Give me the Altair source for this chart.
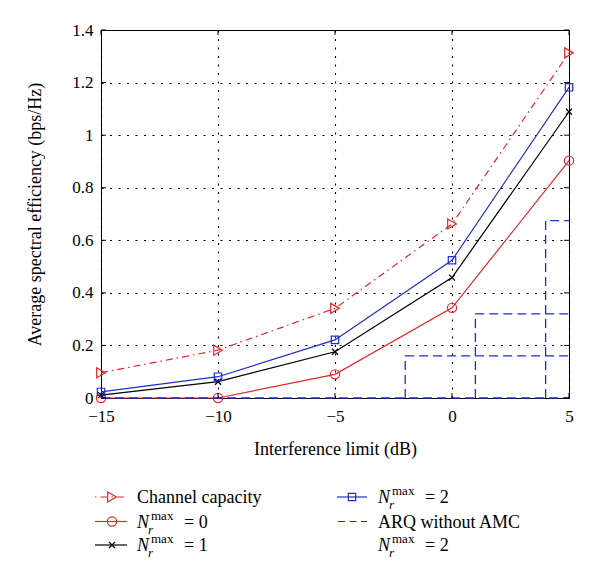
import altair as alt
import pandas as pd

# ---- values ----
x_vals = [-15, -10, -5, 0, 5]
capacity = [0.096, 0.182, 0.341, 0.662, 1.313]
nr0 = [0.0, 0.0, 0.090, 0.343, 0.903]
nr1 = [0.011, 0.062, 0.176, 0.458, 1.089]
nr2 = [0.023, 0.081, 0.221, 0.524, 1.182]
arq_thresholds = [-2, 1, 4]
arq_levels = [0.16, 0.32, 0.675]
x_ticks = [-15, -10, -5, 0, 5]
y_ticks = [0, 0.2, 0.4, 0.6, 0.8, 1.0, 1.2, 1.4]
x_domain = [-15, 5]
y_domain = [0, 1.4]

RED = "#e4262b"
BLUE = "#1f2ec8"
BLACK = "#000000"
FONT = "'Liberation Serif', 'Times New Roman', 'DejaVu Serif', serif"
W, H = 468, 368
CROSS = "M-1,-1L1,1M1,-1L-1,1"

xs = alt.Scale(domain=x_domain, nice=False, zero=False)
ys = alt.Scale(domain=y_domain, nice=False, zero=False)

AX = alt.Axis(
    values=x_ticks, format="~g", title="Interference limit (dB)",
    grid=True, gridDash=[2, 6.5], gridColor="#000", gridWidth=1.1,
    ticks=False, tickSize=0, domain=False, labelFlush=False,
    labelFont=FONT, labelFontSize=17, labelColor="black", labelPadding=10,
    titleFont=FONT, titleFontSize=18, titleFontWeight="normal", titleColor="black",
    titleX=W / 2, titleY=56, titleBaseline="alphabetic", titleAlign="center")
AY = alt.Axis(
    values=y_ticks, format="~g", title="Average spectral efficiency (bps/Hz)",
    grid=True, gridDash=[2, 6.5], gridColor="#000", gridWidth=1.1,
    ticks=False, tickSize=0, domain=False, labelFlush=False,
    labelFont=FONT, labelFontSize=17, labelColor="black", labelPadding=8,
    titleFont=FONT, titleFontSize=18, titleFontWeight="normal", titleColor="black",
    titleAngle=270, titleX=-61, titleY=H / 2, titleBaseline="alphabetic", titleAlign="center")

X0 = alt.X("x:Q", scale=xs, axis=AX)
Y0 = alt.Y("y:Q", scale=ys, axis=AY)


def series_df(vals):
    return pd.DataFrame({"x": x_vals, "y": vals})


def series_layer(vals, color, shape, size, dash=None):
    kw = dict(color=color, strokeWidth=1.2,
              point=alt.OverlayMarkDef(shape=shape, filled=False, color=color,
                                       size=size, strokeWidth=1.2))
    if dash is not None:
        kw["strokeDash"] = dash
    return alt.Chart(series_df(vals)).mark_line(**kw).encode(x=X0, y=Y0)


cap_layer = series_layer(capacity, RED, "triangle-right", 100, [7, 4, 1.5, 4])
n0_layer = series_layer(nr0, RED, "circle", 85)
n1_layer = series_layer(nr1, BLACK, CROSS, 36)
n2_layer = series_layer(nr2, BLUE, "square", 55)

# ARQ without AMC step segments
arq_rows = [{"x": x_domain[0], "y": 0, "seg": 0, "o": 0},
            {"x": x_domain[1], "y": 0, "seg": 0, "o": 1}]
for i, (t, lv) in enumerate(zip(arq_thresholds, arq_levels), start=1):
    arq_rows += [{"x": t, "y": 0, "seg": i, "o": 0},
                 {"x": t, "y": lv, "seg": i, "o": 1},
                 {"x": x_domain[1], "y": lv, "seg": i, "o": 2}]
arq_layer = alt.Chart(pd.DataFrame(arq_rows)).mark_line(
    color=BLUE, strokeWidth=1.3, strokeDash=[9, 5]).encode(
    x=X0, y=Y0, detail="seg:N", order="o:Q")

# inward ticks on all four sides
xt = pd.DataFrame({"x": x_ticks})
yt = pd.DataFrame({"y": y_ticks})
tick_layers = [
    alt.Chart(yt).mark_rule(color="black").encode(y=Y0, x=alt.value(0), x2=alt.value(5)),
    alt.Chart(yt).mark_rule(color="black").encode(y=Y0, x=alt.value(W - 5), x2=alt.value(W)),
    alt.Chart(xt).mark_rule(color="black").encode(x=X0, y=alt.value(H - 5), y2=alt.value(H)),
    alt.Chart(xt).mark_rule(color="black").encode(x=X0, y=alt.value(0), y2=alt.value(5)),
]

# ---- custom legend below the plot ----
dummy = alt.Data(values=[{"k": 0}])


def txt(s, x, y, size=18, italic=False):
    kw = dict(text=s, font=FONT, fontSize=size, align="left", baseline="alphabetic", color="black")
    if italic:
        kw["fontStyle"] = "italic"
    return alt.Chart(dummy).mark_text(**kw).encode(x=alt.value(x), y=alt.value(y))


def nr_label(x0, base, d):
    return [txt("N", x0, base, 18, True),
            txt("r", x0 + 11, base + 6, 13, True),
            txt("max", x0 + 14, base - 8, 13),
            txt("= " + d, x0 + 47, base, 18)]


def sample(x1, x2, xm, yc, color, shape=None, size=None, dash=None):
    kw = dict(color=color, strokeWidth=1.2)
    if dash is not None:
        kw["strokeDash"] = dash
    out = [alt.Chart(dummy).mark_rule(**kw).encode(
        x=alt.value(x1), x2=alt.value(x2), y=alt.value(yc))]
    if shape is not None:
        out.append(alt.Chart(dummy).mark_point(
            shape=shape, filled=False, color=color, size=size, strokeWidth=1.2,
            opacity=1).encode(x=alt.value(xm), y=alt.value(yc)))
    return out


rows_c = [467, 491.5, 515]
rows_b = [473, 497.5, 521]
LX1, LX2, LXM, LXT = -6, 26, 11, 36
RX1, RX2, RXM, RXT = 236, 266, 251, 277

legend = []
legend += sample(LX1, LX2, LXM, rows_c[0], RED, "triangle-right", 100, [1.5, 4, 7, 4])
legend.append(txt("Channel capacity", LXT, rows_b[0]))
legend += sample(LX1, LX2, LXM, rows_c[1], RED, "circle", 85)
legend += nr_label(LXT, rows_b[1], "0")
legend += sample(LX1, LX2, LXM, rows_c[2], BLACK, CROSS, 36)
legend += nr_label(LXT, rows_b[2], "1")
legend += sample(RX1, RX2, RXM, rows_c[0], BLUE, "square", 55)
legend += nr_label(RXT, rows_b[0], "2")
legend += sample(RX1 + 1, RX2, RXM, rows_c[1], BLUE, dash=[7, 4.5])
legend.append(txt("ARQ without AMC", RXT, rows_b[1]))
legend += nr_label(RXT, rows_b[2], "2")

chart = alt.layer(
    cap_layer, n0_layer, n1_layer, n2_layer, arq_layer,
    *tick_layers, *legend
).properties(
    width=W, height=H,
    padding={"left": 93, "top": 22, "right": 23, "bottom": 170},
    autosize=alt.AutoSizeParams(type="none"),
    background="white",
).configure_view(stroke="black", strokeWidth=1)

chart.save("out.html", embed_options={"renderer": "svg", "actions": False})
